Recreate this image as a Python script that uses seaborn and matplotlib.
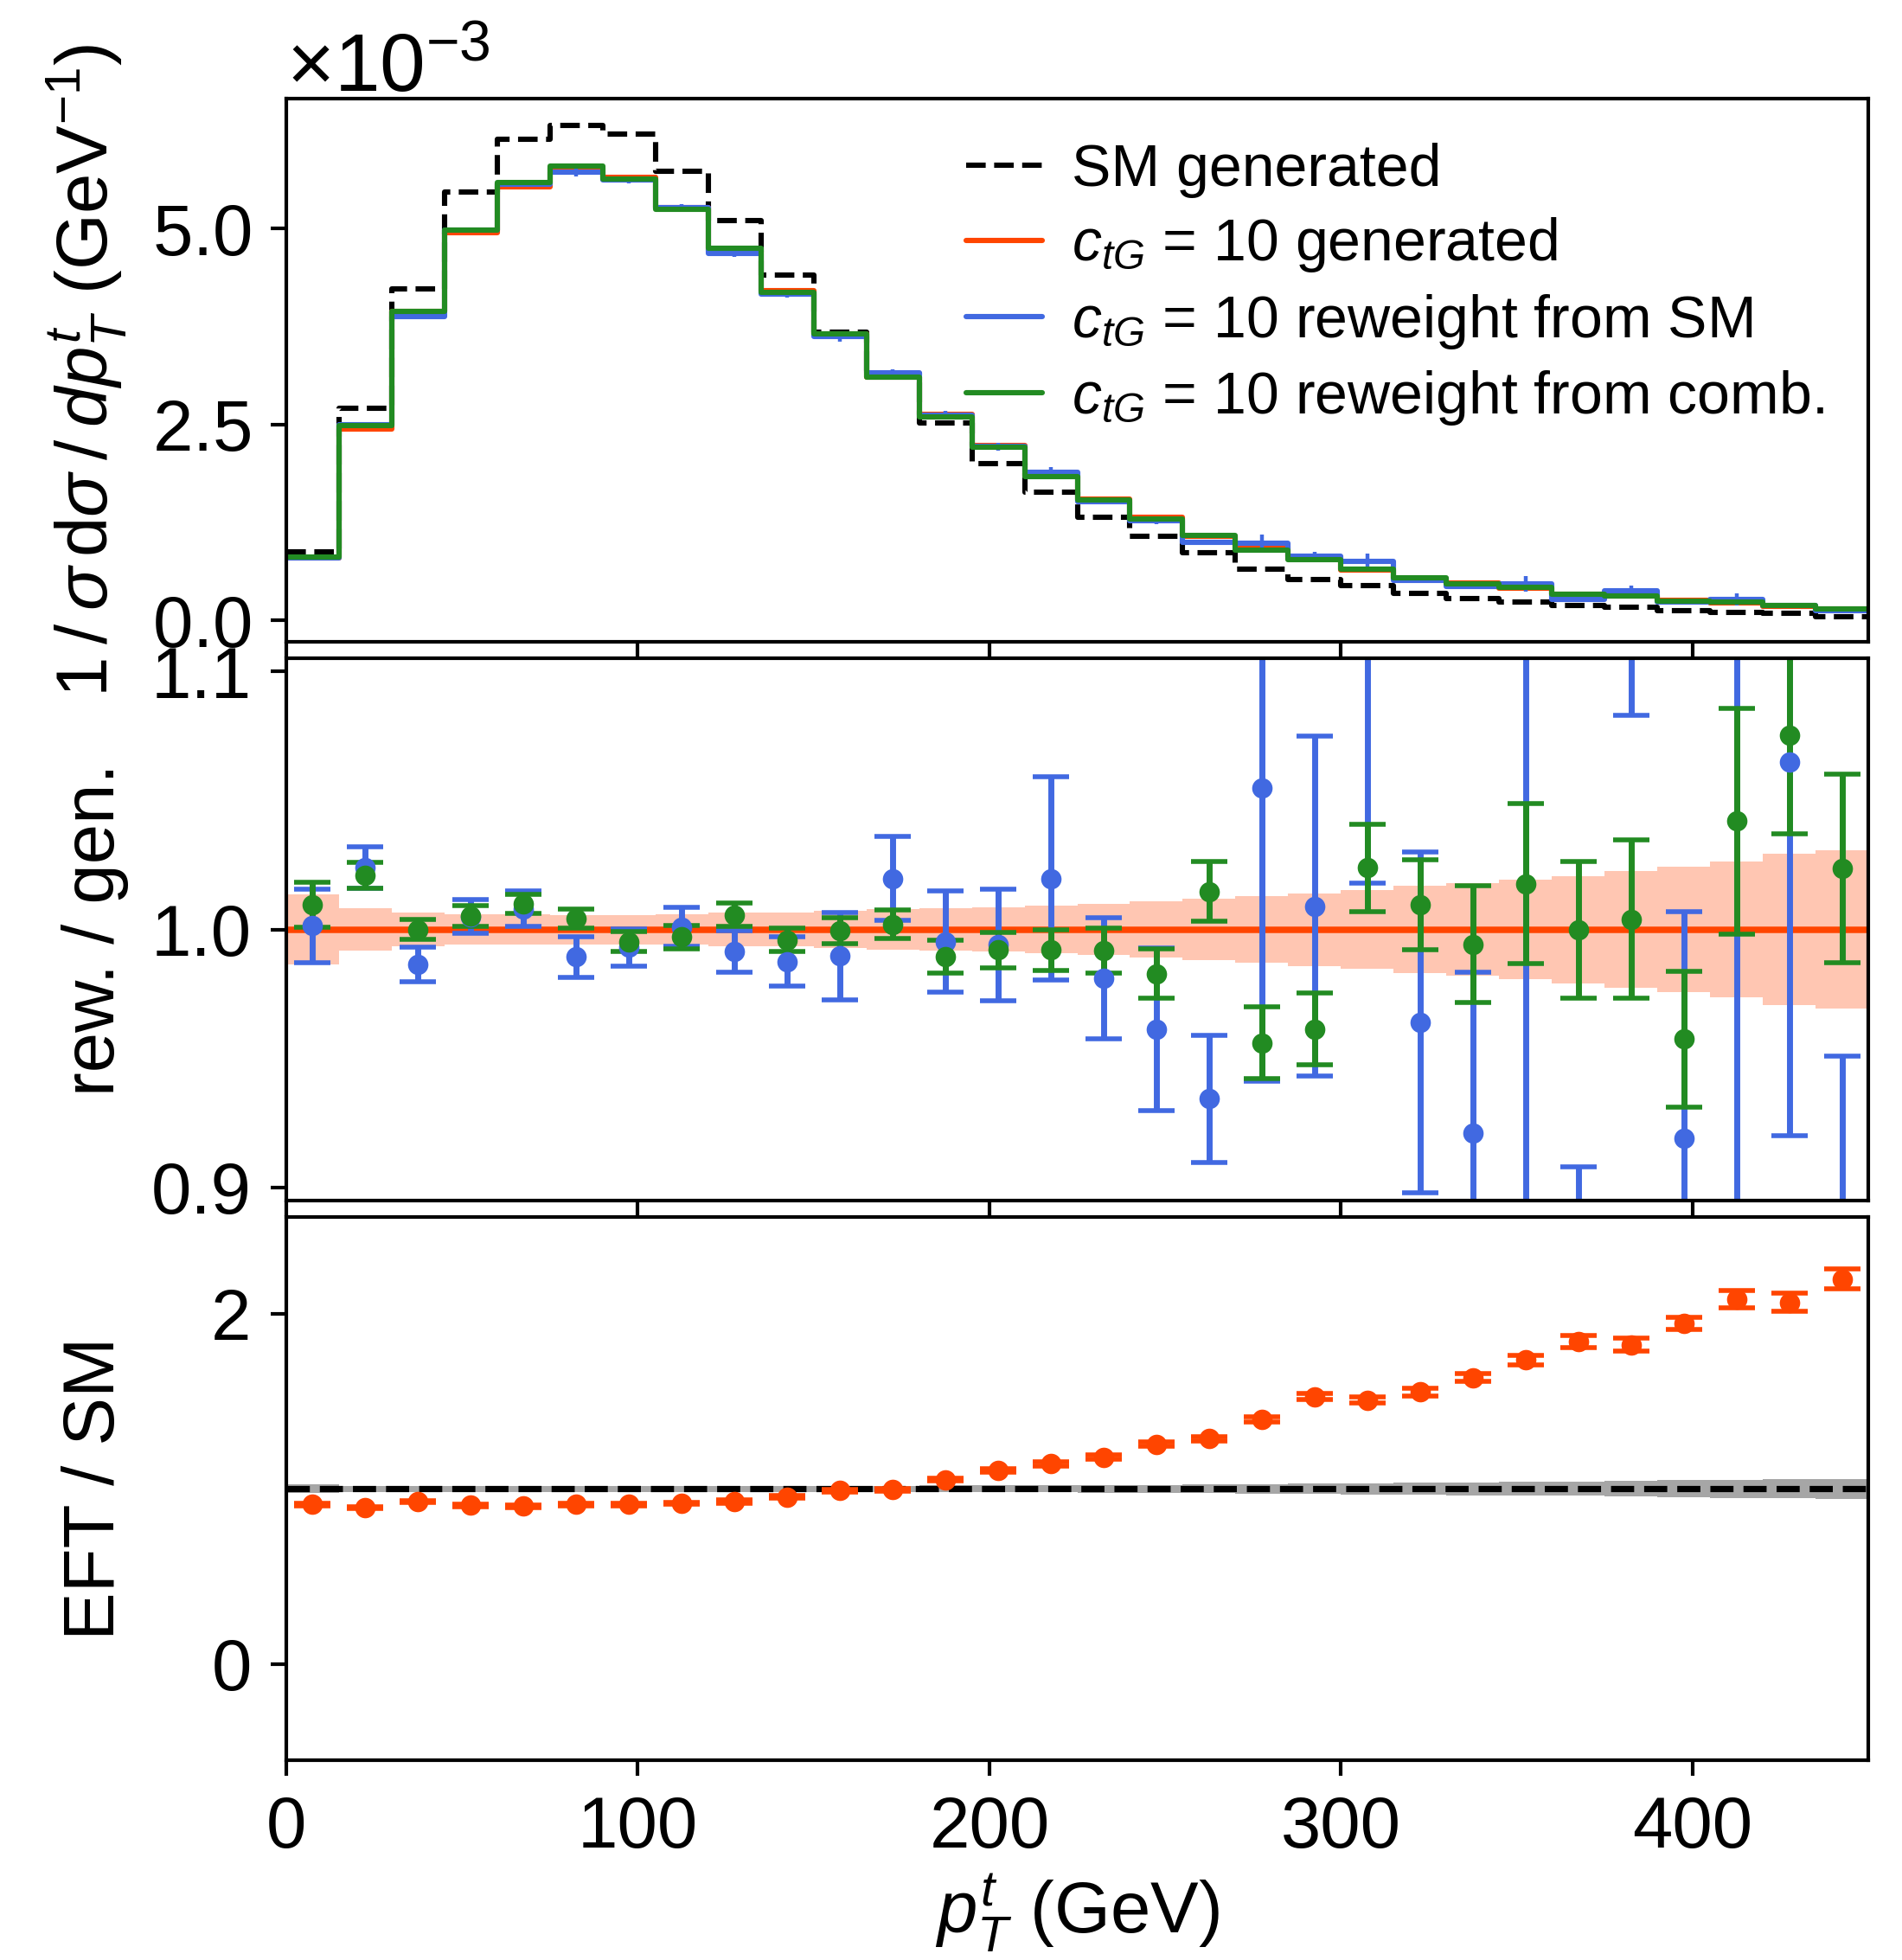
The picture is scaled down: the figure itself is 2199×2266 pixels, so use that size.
import numpy as np
import pandas as pd
import matplotlib
matplotlib.use("Agg")
import matplotlib.pyplot as plt
from matplotlib.lines import Line2D
import seaborn as sns

# binning in top-quark pT (GeV)
bin_edges = np.arange(0, 451, 15)
bin_centres = bin_edges[:-1] + 7.5

# normalised distributions, in units of 1e-3 GeV^-1
sm_gen = [0.88, 2.71, 4.23, 5.47, 6.14, 6.32, 6.21, 5.73, 5.10, 4.41,
          3.68, 3.15, 2.52, 2.00, 1.64, 1.32, 1.07, 0.86, 0.65, 0.52,
          0.44, 0.35, 0.28, 0.24, 0.19, 0.17, 0.13, 0.10, 0.09, 0.05]
ctg_gen = [0.80, 2.44, 3.94, 4.95, 5.53, 5.78, 5.66, 5.27, 4.72, 4.21,
           3.66, 3.10, 2.63, 2.23, 1.85, 1.55, 1.32, 1.07, 0.94, 0.81,
           0.645, 0.535, 0.473, 0.41, 0.34, 0.31, 0.26, 0.22, 0.177, 0.146]
ctg_rw_sm = [0.80, 2.50, 3.88, 4.98, 5.57, 5.72, 5.62, 5.27, 4.68, 4.16,
             3.62, 3.16, 2.62, 2.22, 1.89, 1.52, 1.27, 1.00, 0.99, 0.82,
             0.75, 0.516, 0.436, 0.47, 0.27, 0.38, 0.24, 0.27, 0.19, 0.12]
ctg_rw_sm_err = [0.01, 0.02, 0.03, 0.03, 0.04, 0.05, 0.04, 0.04, 0.04, 0.04,
                 0.06, 0.05, 0.05, 0.05, 0.07, 0.035, 0.04, 0.025, 0.11, 0.054,
                 0.10, 0.034, 0.027, 0.10, 0.03, 0.06, 0.02, 0.08, 0.028, 0.018]
ctg_rw_comb = [0.81, 2.49, 3.94, 4.98, 5.59, 5.80, 5.63, 5.25, 4.75, 4.19,
               3.66, 3.11, 2.60, 2.21, 1.84, 1.54, 1.30, 1.09, 0.90, 0.78,
               0.66, 0.54, 0.47, 0.42, 0.34, 0.31, 0.25, 0.23, 0.19, 0.15]

# reweighted / generated
ratio_rw_sm = [1.0014, 1.024, 0.9864, 1.005, 1.008, 0.9893, 0.993, 1.001, 0.9914, 0.9876,
               0.9897, 1.0198, 0.9953, 0.994, 1.0198, 0.9812, 0.9614, 0.9343, 1.055, 1.009,
               1.16, 0.964, 0.921, 1.15, 0.80, 1.25, 0.919, 1.20, 1.065, 0.80]
ratio_rw_sm_err = [0.0143, 0.008, 0.0066, 0.0065, 0.0068, 0.008, 0.0072, 0.0075, 0.008, 0.0097,
                   0.017, 0.0164, 0.0196, 0.0215, 0.0395, 0.0235, 0.0315, 0.0247, 0.114, 0.066,
                   0.142, 0.066, 0.0625, 0.30, 0.108, 0.167, 0.088, 0.32, 0.145, 0.151]
ratio_rw_comb = [1.0095, 1.021, 1.0, 1.0052, 1.0099, 1.0042, 0.9953, 0.997, 1.0057, 0.9959,
                 0.9996, 1.002, 0.9894, 0.992, 0.992, 0.9918, 0.9829, 1.0147, 0.956, 0.9614,
                 1.0239, 1.0095, 0.9942, 1.0177, 1.0, 1.004, 0.9575, 1.042, 1.0752, 1.0236]
ratio_rw_comb_err = [0.0087, 0.005, 0.004, 0.0039, 0.0037, 0.0036, 0.0039, 0.0045, 0.0044, 0.0045,
                     0.005, 0.0056, 0.0064, 0.0069, 0.008, 0.0086, 0.0096, 0.0115, 0.014, 0.0139,
                     0.0169, 0.0175, 0.0226, 0.031, 0.0265, 0.0306, 0.0263, 0.0437, 0.038, 0.0366]
gen_band = [0.0137, 0.0081, 0.0066, 0.006, 0.006, 0.0057, 0.0057, 0.006, 0.0064, 0.0064,
            0.0073, 0.008, 0.0083, 0.0086, 0.0093, 0.0099, 0.0109, 0.012, 0.013, 0.0141,
            0.0154, 0.0168, 0.018, 0.0194, 0.0208, 0.0225, 0.0243, 0.0264, 0.0293, 0.0307]

# EFT / SM
eft_sm = [0.910, 0.892, 0.927, 0.906, 0.900, 0.910, 0.910, 0.917, 0.927, 0.954,
          0.990, 0.994, 1.052, 1.104, 1.142, 1.181, 1.254, 1.285, 1.396, 1.525,
          1.506, 1.552, 1.635, 1.735, 1.840, 1.823, 1.944, 2.083, 2.063, 2.198]
eft_sm_err = [0.008, 0.007, 0.007, 0.007, 0.007, 0.007, 0.007, 0.007, 0.008, 0.008,
              0.008, 0.009, 0.009, 0.01, 0.011, 0.012, 0.012, 0.014, 0.016, 0.017,
              0.018, 0.024, 0.024, 0.028, 0.034, 0.035, 0.036, 0.05, 0.052, 0.057]
sm_band = [0.025, 0.018, 0.017, 0.017, 0.017, 0.017, 0.017, 0.017, 0.017, 0.017,
           0.018, 0.018, 0.019, 0.02, 0.021, 0.022, 0.023, 0.026, 0.028, 0.030,
           0.033, 0.035, 0.037, 0.040, 0.041, 0.045, 0.048, 0.051, 0.054, 0.057]

red = "orangered"
blue = "royalblue"
green = "forestgreen"

sns.set_style("ticks")
plt.rcParams["font.family"] = ["Liberation Sans", "DejaVu Sans"]
plt.rcParams["mathtext.fontset"] = "custom"
plt.rcParams["mathtext.rm"] = "Liberation Sans"
plt.rcParams["mathtext.it"] = "Liberation Sans:italic"
plt.rcParams["mathtext.bf"] = "Liberation Sans:bold"
plt.rcParams["axes.linewidth"] = 1.5
for key in ("text.color", "axes.labelcolor", "axes.edgecolor", "xtick.color", "ytick.color"):
    plt.rcParams[key] = "black"

fig, (ax0, ax1, ax2) = plt.subplots(3, 1, sharex=True, figsize=(10.995, 11.33), dpi=200,
                                    gridspec_kw=dict(hspace=0.03))
fig.subplots_adjust(left=0.1505, right=0.9823, top=0.9497, bottom=0.1019)

# top panel: normalised distributions
scale = 1e-3
lw = 2.2
edges_list = [float(e) for e in bin_edges]
hist_df = pd.DataFrame({
    "pt": bin_centres,
    "sm_gen": np.array(sm_gen) * scale,
    "ctg_gen": np.array(ctg_gen) * scale,
    "ctg_rw_sm": np.array(ctg_rw_sm) * scale,
    "ctg_rw_comb": np.array(ctg_rw_comb) * scale,
})
sns.histplot(data=hist_df, x="pt", weights="sm_gen", bins=edges_list, element="step",
             fill=False, color="black", linestyle="--", linewidth=lw, ax=ax0)
sns.histplot(data=hist_df, x="pt", weights="ctg_gen", bins=edges_list, element="step",
             fill=False, color=red, linewidth=lw, ax=ax0)
sns.histplot(data=hist_df, x="pt", weights="ctg_rw_sm", bins=edges_list, element="step",
             fill=False, color=blue, linewidth=lw, ax=ax0)
ax0.errorbar(bin_centres, hist_df["ctg_rw_sm"], yerr=np.array(ctg_rw_sm_err) * scale,
             fmt="none", ecolor=blue, elinewidth=1.6, capsize=0)
sns.histplot(data=hist_df, x="pt", weights="ctg_rw_comb", bins=edges_list, element="step",
             fill=False, color=green, linewidth=lw, ax=ax0)

handles = [Line2D([], [], color="black", ls="--", lw=lw),
           Line2D([], [], color=red, lw=lw),
           Line2D([], [], color=blue, lw=lw),
           Line2D([], [], color=green, lw=lw)]
labels = ["SM generated",
          r"$c_{tG}$ = 10 generated",
          r"$c_{tG}$ = 10 reweight from SM",
          r"$c_{tG}$ = 10 reweight from comb."]
ax0.legend(handles, labels, loc="upper right", frameon=False, fontsize=24.5,
           handlelength=1.3, handletextpad=0.5, labelspacing=0.30, borderaxespad=0.35)
ax0.set_ylim(-0.27e-3, 6.66e-3)
ax0.set_yticks([0, 2.5e-3, 5e-3])
ax0.ticklabel_format(axis="y", style="sci", scilimits=(0, 0), useMathText=True)
ax0.yaxis.get_offset_text().set_fontsize(34)
ax0.set_ylabel(r"$1\:/\:\sigma\,\mathrm{d}\sigma\:/\:dp_T^t$ (GeV$^{-1}$)", fontsize=30,
               labelpad=9)

# middle panel: reweighted / generated
ax1.stairs(1 + np.array(gen_band), bin_edges, baseline=1 - np.array(gen_band), fill=True,
           color=red, alpha=0.3, linewidth=0)
ax1.axhline(1.0, color=red, lw=2.7)
ax1.errorbar(bin_centres, ratio_rw_sm, yerr=ratio_rw_sm_err, fmt="o", color=blue,
             markersize=7.5, elinewidth=2.5, capsize=7.5, capthick=2)
ax1.errorbar(bin_centres, ratio_rw_comb, yerr=ratio_rw_comb_err, fmt="o", color=green,
             markersize=7.5, elinewidth=2.5, capsize=7.5, capthick=2)
ax1.set_ylim(0.8947, 1.1053)
ax1.set_yticks([0.9, 1.0, 1.1])
ax1.set_ylabel("rew. / gen.", fontsize=30, labelpad=9)

# bottom panel: EFT / SM
ax2.stairs(1 + np.array(sm_band), bin_edges, baseline=1 - np.array(sm_band), fill=True,
           color="#A6A6A6", linewidth=0)
ax2.axhline(1.0, color="black", ls="--", lw=2.6)
ax2.errorbar(bin_centres, eft_sm, yerr=eft_sm_err, fmt="o", color=red,
             markersize=7.5, elinewidth=2.5, capsize=7.5, capthick=2)
ax2.set_ylim(-0.55, 2.55)
ax2.set_yticks([0, 2])
ax2.set_ylabel("EFT / SM", fontsize=30, labelpad=9)

ax2.set_xlim(0, 450)
ax2.set_xticks([0, 100, 200, 300, 400])
ax2.set_xlabel(r"$p_T^t$ (GeV)", fontsize=30)
ax0.set_xlabel("")
ax1.set_xlabel("")

for ax in (ax0, ax1, ax2):
    ax.tick_params(direction="out", length=6.5, width=1.5, pad=8, labelsize=30)
    for sp in ax.spines.values():
        sp.set_linewidth(1.5)
        sp.set_visible(True)

fig.align_ylabels([ax0, ax1, ax2])
fig.savefig("out.png", dpi=200)
